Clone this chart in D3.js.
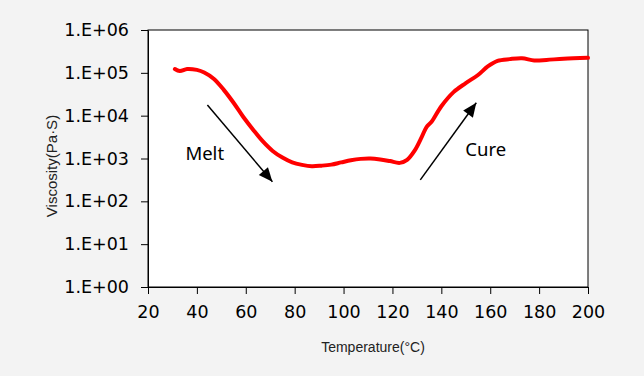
<!DOCTYPE html>
<meta charset="utf-8">
<head>
<script src="https://cdn.jsdelivr.net/npm/d3@7"></script>
<style>
body { margin: 0; }
</style>
</head>
<body>
<div id="chart"></div>
<script>

// viscosity curve
var temps = [31, 33, 36, 40, 43, 47, 51, 55, 59, 63, 67, 71, 75, 79, 83, 87, 91, 95, 99, 103,
             107, 111, 115, 119, 123, 126, 129, 132, 134, 136, 140, 145, 150, 155, 159, 163,
             168, 173, 178, 183, 190, 200];
var viscosity = [123000, 110000, 123000, 117000, 102000, 72000, 40000, 20000, 9300, 4700, 2500,
                 1500, 1050, 810, 710, 660, 680, 720, 810, 910, 980, 1000, 950, 870, 790, 930,
                 1500, 3200, 5500, 7200, 16600, 35500, 57500, 89000, 141000, 190000, 209000,
                 219000, 195000, 200000, 214000, 224000];

var xTicks = [20, 40, 60, 80, 100, 120, 140, 160, 180, 200];
var yTicks = [1, 10, 100, 1000, 10000, 100000, 1000000];
var yTickLabels = ["1.E+00", "1.E+01", "1.E+02", "1.E+03", "1.E+04", "1.E+05", "1.E+06"];

// annotations: label position and arrow from (t0,v0) to (t1,v1)
var notes = [
  {label: "Melt", t: 35.3, v: 930,  t0: 44.3,  v0: 17800, t1: 70.9,  v1: 285},
  {label: "Cure", t: 149.8, v: 1150, t0: 131.4, v0: 316,  t1: 154.3, v1: 20000}
];

var margin = {top: 30, right: 56, bottom: 89, left: 148};
var width = 644 - margin.left - margin.right,
    height = 376 - margin.top - margin.bottom;

var svg = d3.select("#chart").append("svg")
    .attr("width", 644)
    .attr("height", 376)
    .style("display", "block")
    .style("background", "#f3f3f3");

var g = svg.append("g")
    .attr("transform", "translate(" + margin.left + "," + margin.top + ")");

var x = d3.scaleLinear().domain([20, 200]).range([0, width]);
var y = d3.scaleLog().domain([1, 1000000]).range([height, 0]);

g.append("rect")
    .attr("width", width)
    .attr("height", height)
    .attr("fill", "#fff")
    .attr("stroke", "#000")
    .attr("stroke-width", 1);

// axes
g.append("g")
    .attr("transform", "translate(0," + height + ")")
    .call(d3.axisBottom(x).tickValues(xTicks).tickSize(7).tickPadding(12).tickSizeOuter(0));

g.append("g")
    .call(d3.axisLeft(y).tickValues(yTicks).tickSize(7).tickPadding(12).tickSizeOuter(0)
      .tickFormat(function(d, i) { return yTickLabels[i]; }));

g.selectAll(".tick text")
    .attr("fill", "#000")
    .style("font-family", "DejaVu Sans")
    .style("font-size", "17.5px");
g.selectAll(".domain, .tick line").attr("stroke", "#000");

// arrows
g.selectAll(".arrow")
    .data(notes)
    .enter().append("line")
    .attr("class", "arrow")
    .attr("x1", function(d) { return x(d.t0); })
    .attr("y1", function(d) { return y(d.v0); })
    .attr("x2", function(d) { return x(d.t1); })
    .attr("y2", function(d) { return y(d.v1); })
    .attr("stroke", "#000")
    .attr("stroke-width", 1.5);

g.selectAll(".head")
    .data(notes)
    .enter().append("path")
    .attr("class", "head")
    .attr("fill", "#000")
    .attr("d", function(d) {
      var x1 = x(d.t1), y1 = y(d.v1), x0 = x(d.t0), y0 = y(d.v0);
      var a = Math.atan2(y1 - y0, x1 - x0), L = 14, W = 6;
      var bx = x1 - L * Math.cos(a), by = y1 - L * Math.sin(a);
      return "M" + x1 + "," + y1 +
        "L" + (bx + W * Math.sin(a)) + "," + (by - W * Math.cos(a)) +
        "L" + (bx - W * Math.sin(a)) + "," + (by + W * Math.cos(a)) + "Z";
    });

g.selectAll(".note")
    .data(notes)
    .enter().append("text")
    .attr("class", "note")
    .attr("x", function(d) { return x(d.t); })
    .attr("y", function(d) { return y(d.v); })
    .style("font-family", "Noto Sans")
    .style("font-size", "18.5px")
    .attr("fill", "#000")
    .text(function(d) { return d.label; });

// curve
var line = d3.line()
    .x(function(d, i) { return x(temps[i]); })
    .y(function(d) { return y(d); })
    .curve(d3.curveCatmullRom);

g.append("path")
    .datum(viscosity)
    .attr("fill", "none")
    .attr("stroke", "#ff0000")
    .attr("stroke-width", 4)
    .attr("stroke-linecap", "round")
    .attr("stroke-linejoin", "round")
    .attr("d", line);

// axis titles
svg.append("text")
    .attr("x", 373)
    .attr("y", 352)
    .attr("text-anchor", "middle")
    .style("font-family", "Liberation Sans")
    .style("font-size", "14px")
    .attr("fill", "#222")
    .text("Temperature(°C)");

svg.append("text")
    .attr("transform", "translate(57,166) rotate(-90)")
    .attr("text-anchor", "middle")
    .style("font-family", "Liberation Sans")
    .style("font-size", "15px")
    .attr("fill", "#222")
    .text("Viscosity(Pa·S)");

</script>
</body>
